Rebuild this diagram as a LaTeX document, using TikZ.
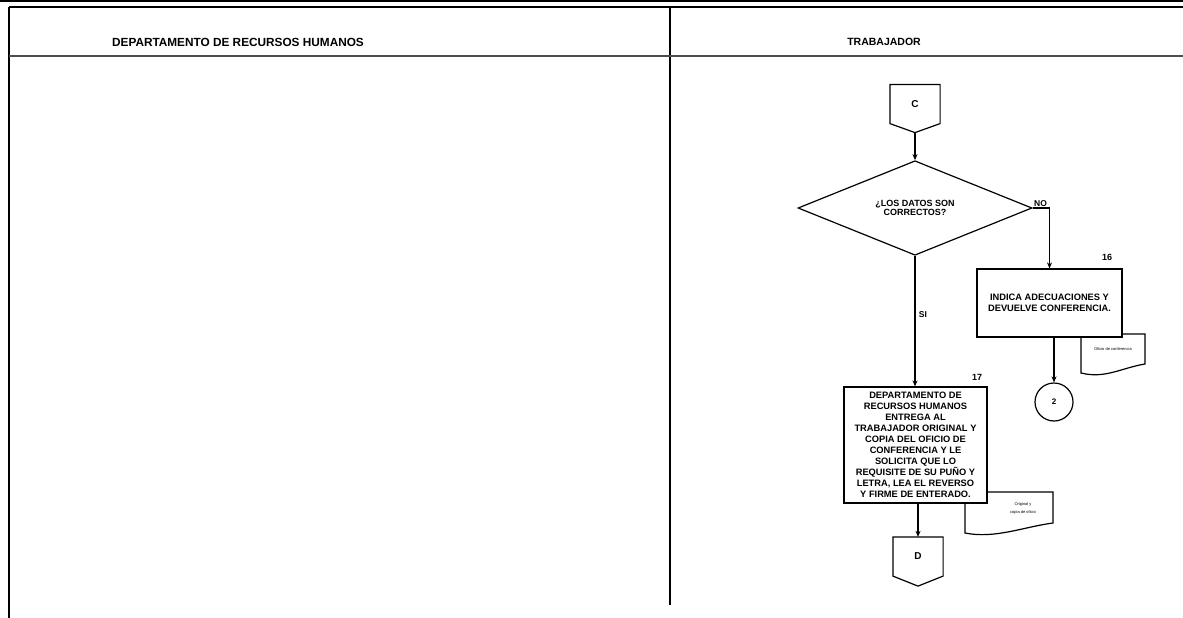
\documentclass[tikz,border=0pt]{standalone}
\usepackage{fontspec}
\setmainfont{Liberation Sans}
\usetikzlibrary{shapes,arrows,arrows.meta,positioning,calc}

\begin{document}
\begin{tikzpicture}[>={Stealth[length=6pt,width=5pt]}, x=1pt, y=-1pt, line width=1.2pt, font=\bfseries]
        \tikzset{
            proc/.style={draw, fill=white, align=center, inner sep=1pt, font=\fontsize{9.3}{11}\selectfont\bfseries},
            decision/.style={draw, diamond, fill=white, align=center, inner sep=0pt, minimum width=234pt, minimum height=51pt, font=\fontsize{9}{9}\selectfont\bfseries},
            offpage/.style={minimum width=49pt, minimum height=38pt, inner sep=0pt, font=\fontsize{10}{12}\selectfont\bfseries},
            docnote/.style={align=center, inner sep=0pt, font=\fontsize{4}{8}\selectfont},
            stepnum/.style={inner sep=0pt, font=\fontsize{9}{11}\selectfont\bfseries}
        }
        \useasboundingbox (0,0) rectangle (1183,618);

        % Frame and lanes
        \draw[line width=1.4pt] (0,1) -- (1183,1);
        \draw (9,7) -- (1183,7);
        \draw (9,7) -- (9,618);
        \draw (670,7) -- (670,605);
        \draw[line width=1.6pt, black!70] (9,56) -- (1183,56);

        \node[font=\fontsize{11.8}{13}\selectfont\bfseries] (lane1) at (238,42) {DEPARTAMENTO DE RECURSOS HUMANOS};
        \node[font=\fontsize{10.5}{12}\selectfont\bfseries] (lane2) at (884,42) {TRABAJADOR};

        % Nodes
        \node[offpage] (conC) at (915,104) {C};
        \coordinate (cTip) at ($(conC.south)+(0,9)$);
        \draw (conC.north west) -- (conC.north east) -- (conC.south east) -- (cTip) -- (conC.south west) -- cycle;

        \node[decision] (check) at (915,208) {¿LOS DATOS SON\\CORRECTOS?};

        % document under step 16
        \coordinate (d16nw) at (1081,334);
        \coordinate (d16se) at (1145,373);
        \draw (d16nw) -- (d16nw |- d16se) .. controls +(24,6) and +(-24,4) .. ($(d16se)+(0,-9)$) -- (d16se |- d16nw) -- cycle;
        \node[docnote] (doc16) at (1113,349) {Oficio de conferencia};

        \node[proc, minimum width=145pt, minimum height=68pt] (step16) at (1049.5,303) {INDICA ADECUACIONES Y\\DEVUELVE CONFERENCIA.};
        \node[stepnum] (n16) at (1107,257) {16};

        \node[draw, circle, minimum size=38pt, inner sep=0pt, font=\fontsize{8}{10}\selectfont\bfseries] (con2) at (1054,402) {2};

        % document under step 17
        \coordinate (d17nw) at (965,492);
        \coordinate (d17se) at (1053,533);
        \draw (d17nw) -- (d17nw |- d17se) .. controls +(30,6) and +(-30,4) .. ($(d17se)+(0,-10)$) -- (d17se |- d17nw) -- cycle;
        \node[docnote] (doc17) at (1023,508) {Original y\\copia de oficio};

        \node[proc, minimum width=143pt, minimum height=116pt] (step17) at (915.5,445) {DEPARTAMENTO DE\\RECURSOS HUMANOS\\ENTREGA AL\\TRABAJADOR ORIGINAL Y\\COPIA DEL OFICIO DE\\CONFERENCIA Y LE\\SOLICITA QUE LO\\REQUISITE DE SU PUÑO Y\\LETRA, LEA EL REVERSO\\Y FIRME DE ENTERADO.};
        \node[stepnum] (n17) at (977,377) {17};

        \node[offpage] (conD) at (918,556.5) {D};
        \coordinate (dTip) at ($(conD.south)+(0,10)$);
        \draw (conD.north west) -- (conD.north east) -- (conD.south east) -- (dTip) -- (conD.south west) -- cycle;

        % Edges
        \draw[->] (cTip) -- (check.north);
        \draw[->] (check.south) -- node[right, pos=0.45, font=\fontsize{8.5}{10}\selectfont\bfseries] (si) {SI} (step17.north -| check.south);
        \draw (check.east) node[above right, inner sep=1pt, font=\fontsize{8.5}{10}\selectfont\bfseries] (no) {NO};
        \draw[->] (check.east) -- (step16.north |- check.east) -- (step16.north);
        \draw[->] (step16.south -| con2) -- (con2.north);
        \draw[->] (step17.south -| conD) -- (conD.north);
    \end{tikzpicture}
\end{document}
